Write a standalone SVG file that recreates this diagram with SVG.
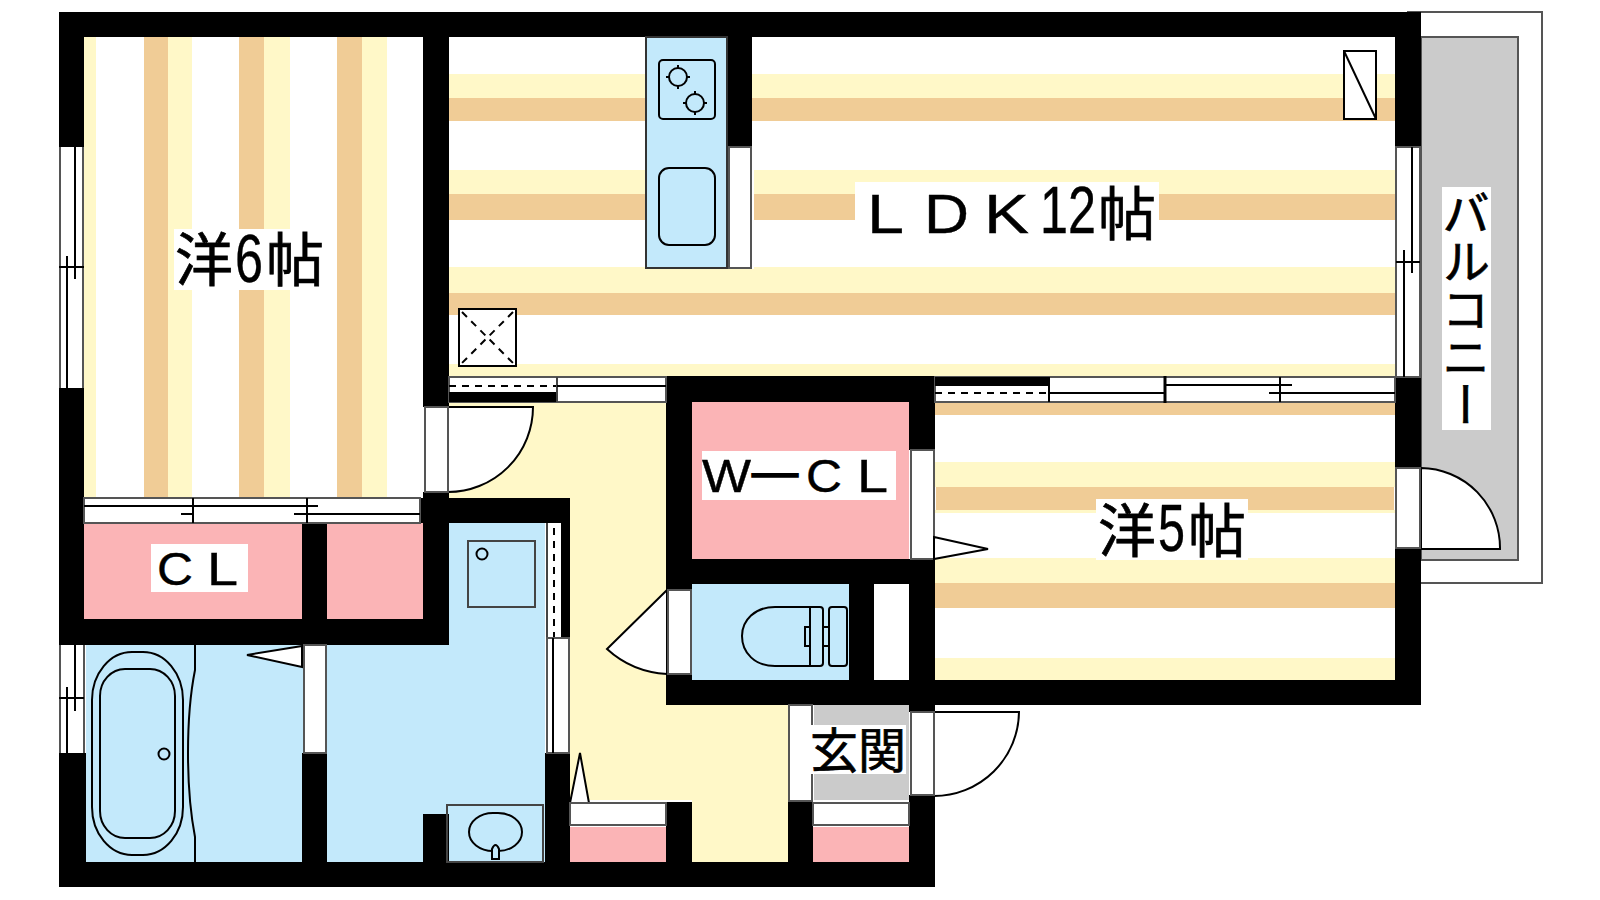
<svg xmlns="http://www.w3.org/2000/svg" width="1600" height="900" viewBox="0 0 1600 900">
<style>
.y{fill:#fff8c8}.t{fill:#f0cc96}.p{fill:#fbb4b6}.b{fill:#c3e9fb}.g{fill:#cbcbcb}.w{fill:#fff}.k{fill:#000}
.l{fill:none;stroke:#000;stroke-width:2}
.f{fill:#fff;stroke:#000;stroke-width:2}
.o{fill:#fff;stroke:#555;stroke-width:2}
.n{fill:none;stroke:#444;stroke-width:2}
.d{fill:none;stroke:#000;stroke-width:2;stroke-dasharray:7 6}
.x{font-family:"Noto Sans CJK JP",sans-serif;font-size:58px;fill:#000;stroke:#000;stroke-width:.7px}
.a{font-family:"Liberation Sans",sans-serif;font-size:46px;fill:#000;stroke:#000;stroke-width:.4px}
</style>
<rect class="w" width="1600" height="900"/>
<g id="balcony">
<rect x="1408" y="12" width="134" height="571" class="o"/>
<rect x="1421" y="37" width="97" height="523" class="g" stroke="#555" stroke-width="2"/>
</g>
<g id="room-west">
<rect x="84" y="37" width="339" height="460" class="w"/>
<rect x="84" y="37" width="12" height="460" class="y"/>
<rect x="144" y="37" width="24" height="460" class="t"/><rect x="168" y="37" width="24" height="460" class="y"/>
<rect x="239" y="37" width="25" height="460" class="t"/><rect x="264" y="37" width="26" height="460" class="y"/>
<rect x="337" y="37" width="25" height="460" class="t"/><rect x="362" y="37" width="25" height="460" class="y"/>
</g>
<g id="room-ldk">
<rect x="449" y="74" width="946" height="24" class="y"/><rect x="449" y="98" width="946" height="23" class="t"/>
<rect x="449" y="170" width="946" height="24" class="y"/><rect x="449" y="194" width="946" height="26" class="t"/>
<rect x="449" y="267" width="946" height="26" class="y"/><rect x="449" y="293" width="946" height="22" class="t"/>
<rect x="449" y="364" width="946" height="13" class="y"/>
</g>
<g id="room-south">
<rect x="935" y="402" width="460" height="13" class="t"/>
<rect x="935" y="462" width="460" height="25" class="y"/><rect x="936" y="487" width="458" height="23" class="t"/><rect x="935" y="510" width="460" height="3" class="y"/>
<rect x="935" y="558" width="460" height="25" class="y"/><rect x="935" y="583" width="460" height="25" class="t"/>
<rect x="935" y="658" width="460" height="22" class="y"/>
</g>
<g id="floors">
<path class="y" d="M449 402H666V800H692V862H788V705H692V680H666V800H570V498H449Z"/>
<rect x="84" y="523" width="339" height="96" class="p"/>
<rect x="692" y="402" width="217" height="157" class="p"/>
<rect x="692" y="584" width="157" height="96" class="b"/>
<path class="b" d="M449 523H545V862H86V645H449Z"/>
<rect x="570" y="827" width="96" height="35" class="p"/>
<rect x="813" y="827" width="96" height="35" class="p"/>
<rect x="814" y="705" width="95" height="95" class="g"/>
</g>
<g id="walls" class="k">
<rect x="59" y="12" width="1362" height="25"/>
<rect x="59" y="12" width="25" height="135"/>
<rect x="59" y="388" width="25" height="257"/>
<rect x="59" y="753" width="27" height="134"/>
<rect x="59" y="862" width="876" height="25"/>
<rect x="423" y="37" width="26" height="370"/>
<rect x="423" y="492" width="26" height="153"/>
<rect x="420" y="498" width="150" height="25"/>
<rect x="59" y="619" width="390" height="26"/>
<rect x="302" y="523" width="25" height="96"/>
<rect x="302" y="753" width="25" height="109"/>
<rect x="727" y="37" width="25" height="110"/>
<rect x="1395" y="12" width="26" height="135"/>
<rect x="1395" y="377" width="26" height="91"/>
<rect x="1395" y="548" width="26" height="157"/>
<rect x="666" y="376" width="269" height="26"/>
<rect x="666" y="376" width="26" height="214"/>
<rect x="666" y="674" width="26" height="31"/>
<rect x="666" y="559" width="269" height="25"/>
<rect x="909" y="376" width="26" height="74"/>
<rect x="909" y="559" width="26" height="153"/>
<rect x="849" y="584" width="25" height="96"/>
<rect x="666" y="680" width="755" height="25"/>
<rect x="909" y="795" width="26" height="92"/>
<rect x="545" y="753" width="25" height="109"/>
<rect x="666" y="802" width="26" height="60"/>
<rect x="788" y="801" width="25" height="61"/>
<rect x="423" y="814" width="26" height="48"/>
<rect x="561" y="523" width="9" height="115"/>
</g>
<g id="windows">
<path class="o" d="M60 147V388M83 147V388"/>
<path class="l" d="M59 267H84M67 256V388M75 147V279"/>
<rect x="84" y="645" width="2" height="108" class="w"/>
<path class="o" d="M60 645V753M84 645V753"/>
<path class="l" d="M59 698H84M67 687V753M75 645V711"/>
<rect x="1396" y="147" width="24" height="230" class="o"/>
<path class="l" d="M1396 262H1420M1404 250V377M1412 147V273"/>
<rect x="84" y="498" width="336" height="25" class="o"/>
<path class="l" d="M193 498V523M307 498V523M84 506H318M181 514H193M294 514H420"/>
<rect x="449" y="377" width="217" height="25" class="o"/>
<rect x="449" y="392" width="108" height="10" class="k"/>
<path class="d" d="M449 386H557"/><path class="n" d="M557 377V402"/><path class="l" d="M557 386H666"/>
<rect x="935" y="377" width="460" height="25" class="o"/>
<rect x="935" y="377" width="114" height="9" class="k"/>
<path class="d" d="M935 393H1049"/>
<path class="l" d="M1049 377V402M1280 377V402M1049 393H1165M1165 385H1292M1269 393H1395"/>
<path d="M1165 376V403" stroke="#000" stroke-width="3"/>
<rect x="547" y="523" width="14" height="115" class="w"/>
<path class="n" d="M547 523V638"/><path class="d" d="M554 528V638"/>
<rect x="547" y="638" width="22" height="115" class="o"/><path class="l" d="M553 638V753"/>
</g>
<g id="kitchen">
<rect x="727" y="147" width="27" height="122" class="w"/>
<rect x="646" y="37" width="81" height="231" class="b" stroke="#333" stroke-width="2"/>
<rect x="729" y="147" width="22" height="121" class="o"/>
<rect x="659" y="60" width="56" height="59" rx="4" class="l"/>
<circle cx="678" cy="77" r="9" class="l"/><circle cx="695" cy="103" r="9" class="l"/>
<path class="l" d="M666 77H670M686 77H690M678 65V69M678 85V89M683 103H687M703 103H707M695 91V95M695 111V115"/>
<rect x="659" y="168" width="56" height="77" rx="10" class="l"/>
</g>
<g id="fixtures">
<rect x="1344" y="51" width="32" height="68" class="f"/><path class="l" d="M1344 51L1376 119"/>
<rect x="459" y="309" width="57" height="57" class="f"/><path class="d" d="M462 312L513 363M513 312L462 363"/>
<rect x="468" y="541" width="67" height="66" class="n"/><circle cx="482" cy="554" r="5.500" class="l"/>
<rect x="447" y="805" width="96" height="57" class="n"/>
<rect x="469" y="813" width="53" height="38" rx="24" ry="19" class="l"/>
<path class="b" stroke="#000" stroke-width="2" d="M492 859V849Q495.500 841 499 849V859Z"/>
<rect x="92" y="652" width="91" height="203" rx="40" ry="48" class="l"/>
<rect x="100" y="669" width="75" height="169" rx="25" ry="27" class="l"/>
<circle cx="164" cy="754" r="5.500" class="l"/>
<path class="l" d="M195 645V670C191 690 188 720 188 753C188 786 191 816 195 837V862"/>
<path class="l" d="M810 607H775C755 607 742 620 742 636C742 653 755 666 775 666H810Z"/>
<path class="l" d="M810 607H820Q823 607 823 610V663Q823 666 820 666H810M810 627H805V646H810M823 627H829V646H823"/>
<rect x="829" y="607" width="18" height="59" rx="3" class="l"/>
</g>
<g id="doors">
<path class="f" d="M448 407H533A85 85 0 0 1 448 492Z"/>
<rect x="425" y="407" width="23" height="85" class="o"/>
<path class="f" d="M1421 468A80 80 0 0 1 1500 549H1421Z"/>
<rect x="1396" y="468" width="24" height="80" class="o"/>
<rect x="911" y="450" width="23" height="109" class="o"/>
<path class="f" d="M934 537L988 549L934 559Z"/>
<path class="f" d="M667 590L607 649Q632 672 667 674Z"/>
<rect x="668" y="590" width="23" height="84" class="o"/>
<path class="f" d="M934 712H1019A85 85 0 0 1 934 796Z"/>
<rect x="911" y="712" width="23" height="83" class="o"/>
<rect x="789" y="705" width="23" height="96" class="o"/>
<rect x="304" y="645" width="22" height="108" class="o"/>
<path class="f" d="M302 646L247 655L302 667Z"/>
<path class="f" d="M570 803L580 753L589 803Z"/>
<rect x="570" y="803" width="96" height="22" class="o"/>
<rect x="813" y="803" width="96" height="22" class="o"/>
</g>
<g id="labels">
<rect x="174" y="229" width="149" height="61" class="w"/>
<text class="x" x="175" y="281">洋<tspan class="a" x="235" y="282" style="font-size:68px" textLength="28" lengthAdjust="spacingAndGlyphs">6</tspan><tspan x="266" y="281">帖</tspan></text>
<rect x="855" y="182" width="304" height="58" class="w"/>
<text class="a" y="233" style="font-size:56px"><tspan x="867" textLength="37" lengthAdjust="spacingAndGlyphs">L</tspan><tspan x="924" textLength="45" lengthAdjust="spacingAndGlyphs">D</tspan><tspan x="984" textLength="45" lengthAdjust="spacingAndGlyphs">K</tspan><tspan x="1040" style="font-size:66px" textLength="56" lengthAdjust="spacingAndGlyphs">12</tspan><tspan class="x" x="1098" y="235">帖</tspan></text>
<rect x="702" y="451" width="194" height="49" class="w"/>
<text class="a" y="492"><tspan x="702" textLength="49" lengthAdjust="spacingAndGlyphs">W</tspan><tspan x="752" y="487" style="stroke-width:1.6px">―</tspan><tspan x="806" y="492" textLength="36" lengthAdjust="spacingAndGlyphs">C</tspan><tspan x="857" textLength="31" lengthAdjust="spacingAndGlyphs">L</tspan></text>
<rect x="151" y="544" width="97" height="48" class="w"/>
<text class="a" y="585"><tspan x="157" textLength="36" lengthAdjust="spacingAndGlyphs">C</tspan><tspan x="207" textLength="31" lengthAdjust="spacingAndGlyphs">L</tspan></text>
<rect x="1096" y="499" width="152" height="61" class="w"/>
<text class="x" x="1098" y="552">洋<tspan class="a" x="1158" y="551" style="font-size:66px" textLength="27" lengthAdjust="spacingAndGlyphs">5</tspan><tspan x="1188" y="552">帖</tspan></text>
<rect x="810" y="725" width="96" height="49" class="w"/>
<text class="x" x="810" y="768" style="font-size:48px">玄関</text>
<rect x="1442" y="187" width="49" height="243" class="w"/>
<text class="x" x="1466" y="189" style="font-size:48px;writing-mode:vertical-rl">バルコニー</text>
</g>
</svg>
